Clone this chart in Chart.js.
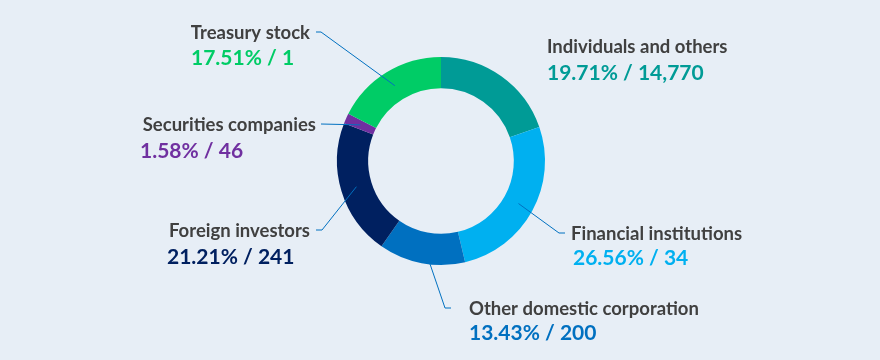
<!DOCTYPE html>
<html>
<head>
<meta charset="utf-8">
<script src="https://cdn.jsdelivr.net/npm/chart.js@4"></script>
<style>
  html, body { margin: 0; padding: 0; background: #e7eef6; }
  #wrap { width: 880px; height: 360px; position: relative; }
</style>
</head>
<body>
<div id="wrap"><canvas id="chart"></canvas></div>
<script>
const categories = ['Individuals and others', 'Financial institutions', 'Other domestic corporation',
  'Foreign investors', 'Securities companies', 'Treasury stock'];
const shares = [19.71, 26.56, 13.43, 21.21, 1.58, 17.51];
const holders = ['14,770', '34', '200', '241', '46', '1'];
const colors = ['#009b96', '#00b0f0', '#0070c0', '#002060', '#7030a0', '#00cc66'];

// label layout: name position, value position, leader elbow/tick (null = no leader)
const labelLayout = [
  { nx: 547, ny: 47, na: 'left',  vx: 547, vy: 73,  line: null },
  { nx: 571, ny: 234, na: 'left', vx: 573, vy: 258, line: [[559, 233], [565, 233]] },
  { nx: 469, ny: 309, na: 'left', vx: 469, vy: 333, line: [[445, 308], [451, 308]] },
  { nx: 310, ny: 231, na: 'right', vx: 167, vy: 257, line: [[322, 230], [316, 230]] },
  { nx: 316, ny: 125, na: 'right', vx: 140, vy: 151, line: [[321, 124]] },
  { nx: 310, ny: 33,  na: 'right', vx: 191, vy: 58,  line: [[321, 32], [316, 32]] }
];

const labelPlugin = {
  id: 'labels',
  afterDatasetsDraw(chart) {
    const ctx = chart.ctx;
    const arcs = chart.getDatasetMeta(0).data;
    ctx.save();
    arcs.forEach((arc, i) => {
      const lay = labelLayout[i];
      if (lay.line) {
        const p = arc.getCenterPoint();
        ctx.beginPath();
        ctx.strokeStyle = '#0070c0';
        ctx.lineWidth = 1;
        ctx.moveTo(p.x, p.y);
        lay.line.forEach(pt => ctx.lineTo(pt[0], pt[1]));
        ctx.stroke();
      }
      ctx.textBaseline = 'middle';
      ctx.font = 'bold 18.5px Lato';
      ctx.fillStyle = '#404040';
      ctx.textAlign = lay.na;
      ctx.fillText(categories[i], lay.nx, lay.ny);
      ctx.font = 'bold 21px Lato';
      ctx.fillStyle = colors[i];
      ctx.textAlign = 'left';
      ctx.fillText(shares[i].toFixed(2) + '% / ' + holders[i], lay.vx, lay.vy);
    });
    ctx.restore();
  }
};

new Chart(document.getElementById('chart'), {
  type: 'doughnut',
  data: {
    labels: categories,
    datasets: [{
      data: shares,
      backgroundColor: colors,
      borderWidth: 0
    }]
  },
  options: {
    responsive: true,
    maintainAspectRatio: false,
    animation: false,
    cutout: '70%',
    layout: { padding: { top: 57, bottom: 95, left: 337, right: 335 } },
    plugins: {
      legend: { display: false },
      tooltip: { enabled: false }
    }
  },
  plugins: [labelPlugin]
});
</script>
</body>
</html>
